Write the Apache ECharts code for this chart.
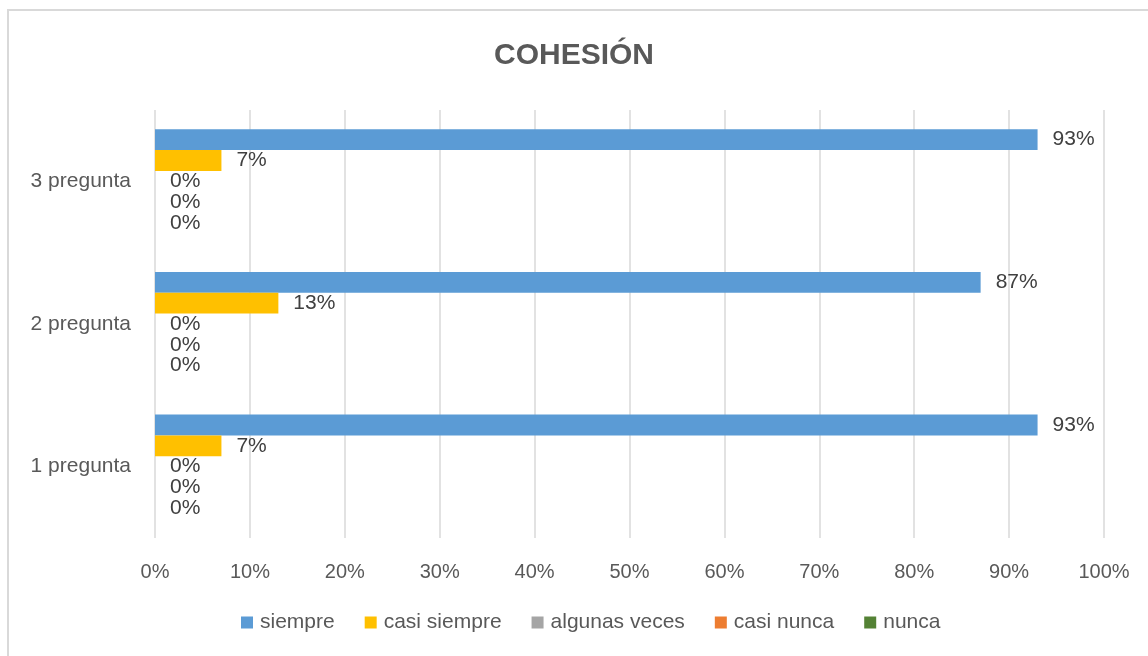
<!DOCTYPE html>
<html>
<head>
<meta charset="utf-8">
<script src="https://cdn.jsdelivr.net/npm/echarts@6/dist/echarts.min.js"></script>
<style>
  html, body { margin: 0; padding: 0; background: #fff; }
  #chart { width: 1148px; height: 656px; }
</style>
</head>
<body>
<div id="chart"></div>
<script>
// datos del gráfico
const categories = ["3 pregunta", "2 pregunta", "1 pregunta"];
const seriesNames = ["siempre", "casi siempre", "algunas veces", "casi nunca", "nunca"];
const siempre = [93, 87, 93];
const casiSiempre = [7, 13, 7];
const algunasVeces = [0, 0, 0];
const casiNunca = [0, 0, 0];
const nunca = [0, 0, 0];
const colors = ["#5B9BD5", "#FFC000", "#A5A5A5", "#ED7D31", "#548235"];

const font = '"Liberation Sans", Arial, sans-serif';
const textColor = "#595959";

const chart = echarts.init(document.getElementById("chart"));

const values = [siempre, casiSiempre, algunasVeces, casiNunca, nunca];
const series = seriesNames.map((name, i) => ({
  name: name,
  type: "bar",
  data: values[i],
  barGap: "0%",
  barCategoryGap: "27%",
  itemStyle: { color: colors[i] },
  label: {
    show: true,
    position: "right",
    distance: 15,
    formatter: "{c}%",
    color: "#404040",
    fontSize: 21,
    fontFamily: font
  }
}));

const option = {
  backgroundColor: "#fff",
  animation: false,
  title: {
    text: "COHESIÓN",
    left: "center",
    top: 36,
    textStyle: { fontSize: 30, fontWeight: "bold", color: textColor, fontFamily: font }
  },
  legend: {
    data: seriesNames,
    bottom: 18,
    left: 236,
    itemWidth: 12,
    itemHeight: 12,
    itemGap: 30,
    icon: "rect",
    textStyle: { fontSize: 21, color: textColor, fontFamily: font, padding: [0, 0, 0, 2] }
  },
  grid: { left: 155, right: 44, top: 110, bottom: 118, containLabel: false },
  xAxis: {
    type: "value",
    min: 0,
    max: 100,
    interval: 10,
    axisLine: { show: false },
    axisTick: { show: false },
    splitLine: { show: true, lineStyle: { color: "#D9D9D9", width: 1.5 } },
    axisLabel: { formatter: "{value}%", fontSize: 20, color: textColor, fontFamily: font, margin: 24 }
  },
  yAxis: {
    type: "category",
    data: categories,
    inverse: true,
    axisLine: { show: false },
    axisTick: { show: false },
    axisLabel: { fontSize: 21, color: textColor, fontFamily: font, margin: 24 }
  },
  graphic: [{
    type: "rect",
    z: -10,
    shape: { x: 8, y: 10, width: 1200, height: 700 },
    style: { fill: null, stroke: "#D9D9D9", lineWidth: 2 }
  }],
  series: series
};

chart.setOption(option);
</script>
</body>
</html>
